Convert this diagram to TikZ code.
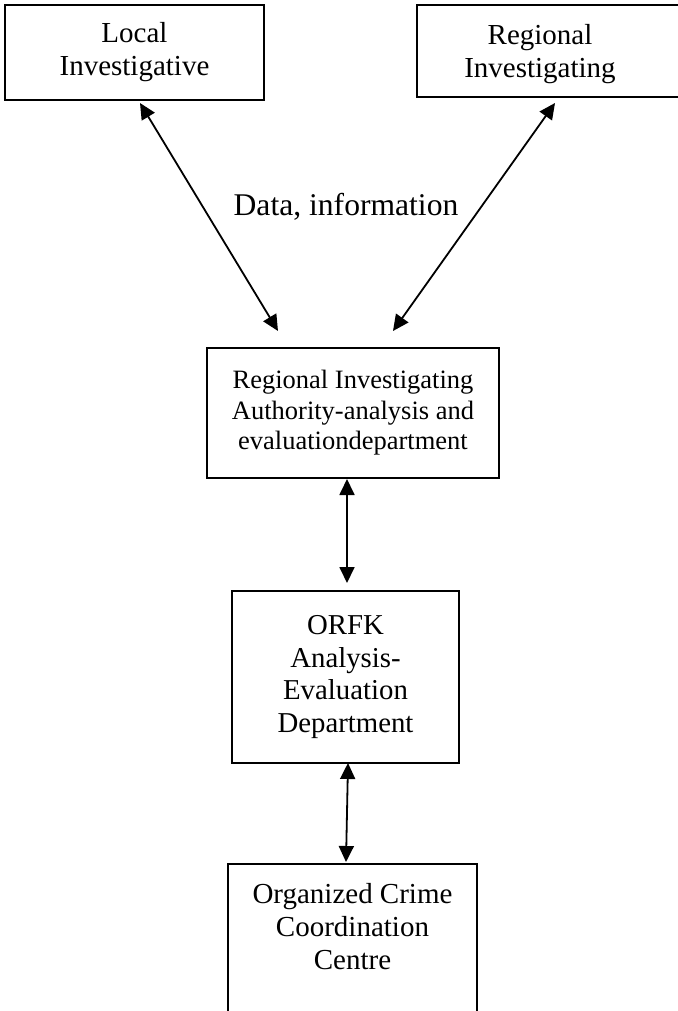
\documentclass[tikz,border=0pt]{standalone}
\usepackage{fontspec}
\setmainfont{Liberation Serif}
\usetikzlibrary{arrows.meta, positioning}

\begin{document}
\begin{tikzpicture}[
  x=0.5pt, y=-0.5pt,
  >={Triangle[length=8pt, width=7.5pt]},
  box/.style={draw, line width=1.3pt, outer sep=0pt, inner sep=0pt, align=center,
              font=\fontsize{14.5}{16.5}\selectfont},
  txt/.style={inner sep=0pt, align=center, font=\fontsize{14.5}{16.5}\selectfont},
  arr/.style={<->, line width=0.9pt},
  ]
\useasboundingbox (0,0) rectangle (678,1011);

\node[box, minimum width=129.5pt, minimum height=47.5pt] (local) at (134.5,52.5) {Local\\Investigative};
\node[box, minimum width=141.5pt, minimum height=46pt] (regional) at (558.5,51) {};
\node[txt] (regionaltext) at (540,54) {Regional\\Investigating};

\node[box, minimum width=146pt, minimum height=65pt, font=\fontsize{13.25}{15.25}\selectfont] (ria) at (353,413)
  {Regional Investigating\\Authority-analysis and\\evaluationdepartment};
\node[box, minimum width=113.5pt, minimum height=86pt, font=\fontsize{14.4}{16.25}\selectfont,
      below=56.5pt of ria, xshift=-3.75pt] (orfk) {ORFK\\Analysis-\\Evaluation\\Department};
\node[box, minimum width=124.5pt, minimum height=80pt, below=50.5pt of orfk, xshift=3.5pt] (occ) {};
\node[txt, anchor=north] (occtext) at ([yshift=-9.25pt]occ.north) {Organized Crime\\Coordination\\Centre};

\node[txt, font=\fontsize{15.8}{18}\selectfont] (data) at (346,207) {Data, information};

\draw[arr] ([xshift=2.75pt, yshift=-1.5pt]local.south) -- ([xshift=-37.5pt, yshift=8.5pt]ria.north);
\draw[arr] ([xshift=-1.75pt, yshift=-3pt]regional.south) -- ([xshift=20pt, yshift=8.5pt]ria.north);
\draw[arr] ([xshift=-3pt, yshift=-0.5pt]ria.south) -- ([xshift=0.75pt, yshift=4pt]orfk.north);
\draw[arr] ([xshift=1.25pt]orfk.south) -- ([xshift=-3.25pt, yshift=1pt]occ.north);
\end{tikzpicture}
\end{document}
